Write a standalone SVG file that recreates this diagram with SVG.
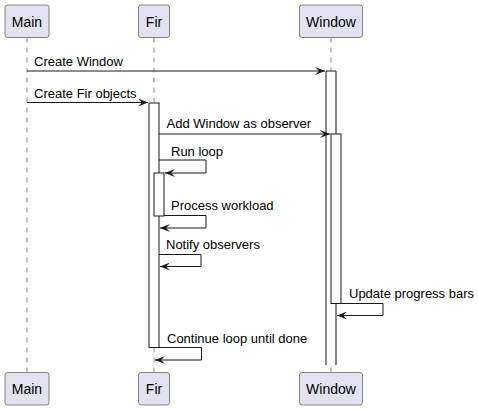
<svg xmlns="http://www.w3.org/2000/svg" width="478" height="410" viewBox="0 0 478 410">
<defs>
<style>
.box{fill:#E2E2F0;stroke:#181818;stroke-width:0.5}
.pname{font-family:"Liberation Sans",Arial,sans-serif;font-size:14px;fill:#000;text-anchor:middle}
.life{stroke:#181818;stroke-width:0.5;stroke-dasharray:5,5;fill:none}
.act{fill:#FFFFFF;stroke:#181818;stroke-width:1}
.msg{fill:none;stroke:#181818;stroke-width:1;marker-end:url(#arr)}
.lbl{font-family:"Liberation Sans",Arial,sans-serif;font-size:13px;fill:#000}
</style>
<marker id="arr" viewBox="0 0 10 8" refX="10" refY="4" markerWidth="10" markerHeight="8" markerUnits="userSpaceOnUse" orient="auto">
<path d="M0,0 L10,4 L0,8 L4,4 Z" fill="#181818"/>
</marker>
</defs>
<rect width="478" height="410" fill="#FFFFFF"/>
<g id="lifelines">
<line class="life" x1="27" y1="37.5" x2="27" y2="372.5"/>
<line class="life" x1="154" y1="37.5" x2="154" y2="372.5"/>
<line class="life" x1="331" y1="37.5" x2="331" y2="372.5"/>
</g>
<g id="Main">
<rect class="box" x="5" y="5" width="44" height="32.5" rx="2.5"/>
<text class="pname" x="27" y="26.5">Main</text>
<rect class="box" x="5" y="372.5" width="44" height="32.5" rx="2.5"/>
<text class="pname" x="27" y="393.5">Main</text>
</g>
<g id="Fir">
<rect class="box" x="138.5" y="5" width="31" height="32.5" rx="2.5"/>
<text class="pname" x="154" y="26.5">Fir</text>
<rect class="box" x="138.5" y="372.5" width="31" height="32.5" rx="2.5"/>
<text class="pname" x="154" y="393.5">Fir</text>
<rect class="act" x="149" y="103" width="10" height="244.5"/>
<rect class="act" x="154" y="173" width="10" height="43"/>
</g>
<g id="Window">
<rect class="box" x="299.5" y="5" width="63" height="32.5" rx="2.5"/>
<text class="pname" x="331" y="26.5">Window</text>
<rect class="box" x="299.5" y="372.5" width="63" height="32.5" rx="2.5"/>
<text class="pname" x="331" y="393.5">Window</text>
<path class="act" d="M326,365 V71 H336 V365"/>
<rect class="act" x="331" y="134" width="10" height="169.5"/>
</g>
<g id="connectors">
<path class="msg" d="M27,71 H325"/>
<path class="msg" d="M27,102.5 H148"/>
<path class="msg" d="M159,134 H330"/>
<path class="msg" d="M159,160 H206 V173 H165"/>
<path class="msg" d="M164,215.5 H206 V228 H160"/>
<path class="msg" d="M159,254.5 H201 V266.5 H160"/>
<path class="msg" d="M341,303.5 H383 V315.5 H337"/>
<path class="msg" d="M159,347.5 H201.5 V360 H155"/>
</g>
<g id="labels">
<text class="lbl" x="34" y="66">Create Window</text>
<text class="lbl" x="34" y="97.5">Create Fir objects</text>
<text class="lbl" x="166.5" y="128">Add Window as observer</text>
<text class="lbl" x="171" y="155.5">Run loop</text>
<text class="lbl" x="171" y="209.5">Process workload</text>
<text class="lbl" x="166" y="249">Notify observers</text>
<text class="lbl" x="349" y="297.5">Update progress bars</text>
<text class="lbl" x="167" y="342.5">Continue loop until done</text>
</g>
</svg>
